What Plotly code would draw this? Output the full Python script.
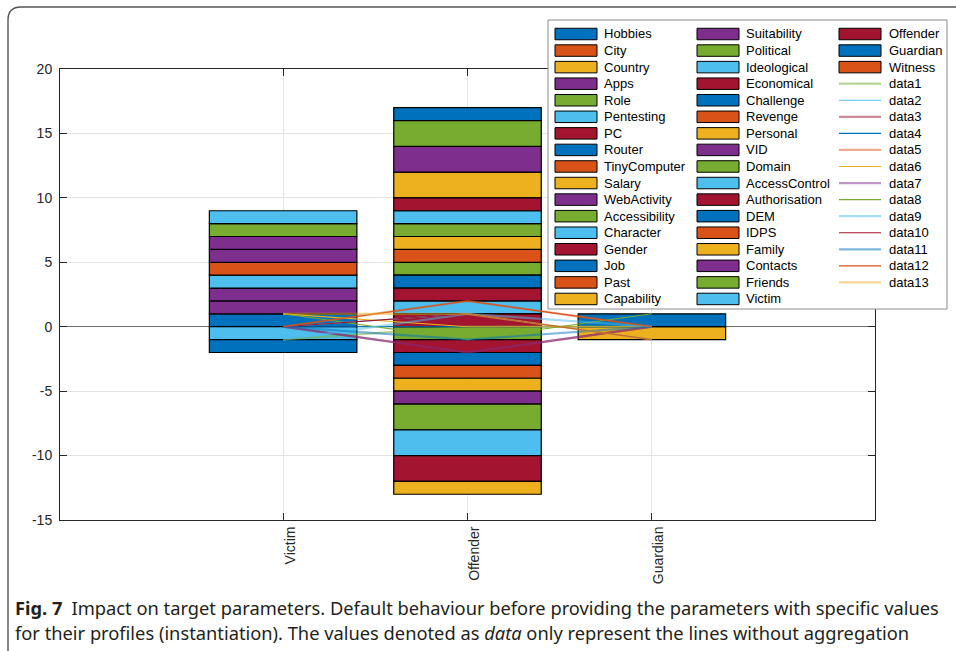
import plotly.graph_objects as go

# ---- data -------------------------------------------------------------
categories = ["Victim", "Offender", "Guardian"]
cat_pos = [1, 2, 3]

series_names = [
    "Hobbies", "City", "Country", "Apps", "Role", "Pentesting", "PC", "Router",
    "TinyComputer", "Salary", "WebActivity", "Accessibility", "Character",
    "Gender", "Job", "Past", "Capability", "Suitability", "Political",
    "Ideological", "Economical", "Challenge", "Revenge", "Personal", "VID",
    "Domain", "AccessControl", "Authorisation", "DEM", "IDPS", "Family",
    "Contacts", "Friends", "Victim", "Offender", "Guardian", "Witness",
]

# stacking order per target: positive parts upward from 0, negative parts downward from 0
victim_stack = [
    ("Hobbies", 1), ("Apps", 1), ("WebActivity", 1), ("Character", 1),
    ("Past", 1), ("Suitability", 1), ("VID", 1), ("Friends", 1), ("Victim", 1),
    ("Pentesting", -1), ("Job", -1),
]
offender_stack = [
    ("Economical", 1), ("Ideological", 1), ("Authorisation", 1), ("Challenge", 1),
    ("Political", 1), ("Revenge", 1), ("Personal", 1), ("Domain", 1),
    ("AccessControl", 1), ("Offender", 1), ("Family", 2), ("Contacts", 2),
    ("Friends", 2), ("DEM", 1),
    ("Role", -1), ("PC", -1), ("Router", -1), ("TinyComputer", -1),
    ("Salary", -1), ("WebActivity", -1), ("Accessibility", -2),
    ("Character", -2), ("Gender", -2), ("Capability", -1),
]
guardian_stack = [("Guardian", 1), ("Country", -1)]

# unaggregated lines (value at Victim, Offender, Guardian)
line_names = ["data%d" % i for i in range(1, 14)]
line_victim = [-1, 0, 0, 0, 0, 1, 0, 1, -1, 0, 0, 0, 1]
line_offender = [0, 1, -2, 0, 2, 0, -2, -1, 1, 1, -1, 2, 1]
line_guardian = [0, -1, 0, 0, 0, 0, 0, 1, 0, -1, 0, 0, -1]

y_ticks = [-15, -10, -5, 0, 5, 10, 15, 20]
y_tick_text = ["-15", "-10", "-5", "0", "5", "10", "15", "20"]

# ---- style --------------------------------------------------------------
palette = ["#0072BD", "#D95319", "#EDB120", "#7E2F8E", "#77AC30", "#4DBEEE", "#A2142F"]
palette_rgb = [(0, 114, 189), (217, 83, 25), (237, 177, 32), (126, 47, 142),
               (119, 172, 48), (77, 190, 238), (162, 20, 47)]
bar_color = {n: palette[i % 7] for i, n in enumerate(series_names)}

def line_style(j):
    r, g, b = palette_rgb[(4 + j) % 7]
    if j % 2 == 0:
        return "rgba(%d,%d,%d,0.5)" % (r, g, b), 2.2
    return "rgb(%d,%d,%d)" % (r, g, b), 1.1

# ---- build stacked bars with explicit bases ----------------------------
segments = {n: {"x": [], "y": [], "base": []} for n in series_names}
for pos, stack in zip(cat_pos, [victim_stack, offender_stack, guardian_stack]):
    top, bottom = 0, 0
    for name, val in stack:
        if val >= 0:
            segments[name]["base"].append(top)
            top += val
        else:
            segments[name]["base"].append(bottom)
            bottom += val
        segments[name]["x"].append(pos)
        segments[name]["y"].append(val)

fig = go.Figure()
for n in series_names:
    s = segments[n]
    fig.add_trace(go.Bar(
        x=s["x"], y=s["y"], base=s["base"], name=n, width=0.8,
        marker=dict(color=bar_color[n], line=dict(color="black", width=1.2)),
        showlegend=False,
    ))

for j, n in enumerate(line_names):
    col, w = line_style(j)
    fig.add_trace(go.Scatter(
        x=cat_pos, y=[line_victim[j], line_offender[j], line_guardian[j]],
        mode="lines", name=n, line=dict(color=col, width=w), showlegend=False,
    ))

# ---- geometry helpers (pixel -> paper) ----------------------------------
PL, PR, PT, PB = 60, 875, 69, 520

def px(x):
    return (x - PL) / (PR - PL)

def py(y):
    return (PB - y) / (PB - PT)

shapes = []
annotations = []

# legend box, three columns filled top-to-bottom
shapes.append(dict(type="rect", xref="paper", yref="paper",
                   x0=px(548), x1=px(947), y0=py(309), y1=py(20),
                   fillcolor="white", line=dict(color="#8a8a8a", width=1)))
col_sw = [555, 697, 839]
col_tx = [602, 744, 887]
row0, drow, sw_w, sw_h = 34, 16.56, 42, 11.5
entries = [("bar", n) for n in series_names] + [("line", n) for n in line_names]
for k, (kind, n) in enumerate(entries):
    c, r = k // 17, k % 17
    yc = row0 + r * drow
    if kind == "bar":
        shapes.append(dict(type="rect", xref="paper", yref="paper",
                           x0=px(col_sw[c]), x1=px(col_sw[c] + sw_w),
                           y0=py(yc + sw_h / 2), y1=py(yc - sw_h / 2),
                           fillcolor=bar_color[n], line=dict(color="black", width=1)))
    else:
        j = line_names.index(n)
        col, w = line_style(j)
        shapes.append(dict(type="line", xref="paper", yref="paper",
                           x0=px(col_sw[c]), x1=px(col_sw[c] + sw_w),
                           y0=py(yc), y1=py(yc), line=dict(color=col, width=w)))
    annotations.append(dict(xref="paper", yref="paper", x=px(col_tx[c]), y=py(yc),
                            text=n, showarrow=False, xanchor="left", yanchor="middle",
                            font=dict(family="Liberation Sans, Arial", size=13, color="#000")))

# figure frame (open on the right/bottom, rounded top-left corner)
frame = "M %f,%f L %f,%f Q %f,%f %f,%f L %f,%f" % (
    px(8), py(651), px(8), py(20), px(8), py(7), px(21), py(7), px(956), py(7))
shapes.append(dict(type="path", xref="paper", yref="paper", path=frame,
                   line=dict(color="#555555", width=1.4)))

# caption
cap_font = dict(family="Noto Sans", size=18.3, color="#231f20")
annotations.append(dict(xref="paper", yref="paper", x=px(13), y=py(607),
                        xanchor="left", yanchor="middle", showarrow=False, font=cap_font,
                        text="<b>Fig. 7</b>\u2002Impact on target parameters. Default behaviour before "
                             "providing the parameters with specific values"))
annotations.append(dict(xref="paper", yref="paper", x=px(13), y=py(632),
                        xanchor="left", yanchor="middle", showarrow=False, font=cap_font,
                        text="for their profiles (instantiation). The values denoted as <i>data</i> "
                             "only represent the lines without aggregation"))

axis_common = dict(showline=True, linecolor="#262626", linewidth=1, mirror="ticks",
                   ticks="inside", ticklen=7, tickcolor="#262626",
                   showgrid=True, gridcolor="#e3e3e3", gridwidth=1,
                   tickfont=dict(family="Liberation Sans, Arial", size=14, color="#262626"))

fig.update_layout(
    width=956, height=651,
    margin=dict(l=PL, r=956 - PR, t=PT, b=651 - PB),
    paper_bgcolor="white", plot_bgcolor="white",
    barmode="overlay", showlegend=False,
    xaxis=dict(range=[-0.21, 4.21], tickvals=cat_pos, ticktext=categories,
               tickangle=-90, ticklabelshift=7, zeroline=False, **axis_common),
    yaxis=dict(range=[-15, 20], tickvals=y_ticks, ticktext=y_tick_text,
               ticklabelstandoff=4, zeroline=True, zerolinecolor="#6e6e6e",
               zerolinewidth=1, **axis_common),
    shapes=shapes, annotations=annotations,
)

fig.write_html("out.html")
